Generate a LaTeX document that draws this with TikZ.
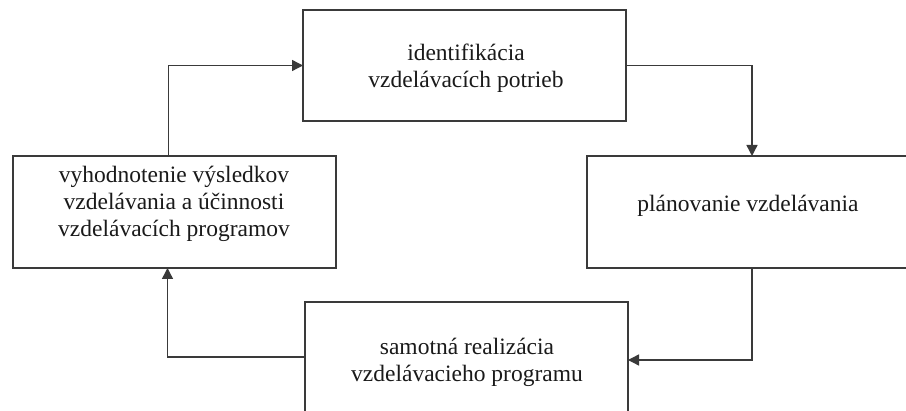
\documentclass[tikz,border=0pt]{standalone}
\usepackage{fontspec}
\setmainfont{Liberation Serif}
\usetikzlibrary{arrows.meta}
\definecolor{linegray}{HTML}{3A3A3A}
\definecolor{textcol}{HTML}{1A1A1A}
\begin{document}
\begin{tikzpicture}[x=1pt,y=-1pt,
  boxstyle/.style={draw=linegray, line width=1.4pt, fill=none, rectangle, inner sep=0pt, outer sep=0pt},
  txt/.style={font=\fontsize{23.5}{27}\selectfont, text=textcol, align=center},
  conn/.style={draw=linegray, line width=1.4pt, -{Triangle[length=11pt,width=11pt]}}]
\clip (0,0) rectangle (906,411);
\fill[white] (0,0) rectangle (906,411);
% boxes
\node[boxstyle, minimum width=323pt, minimum height=111pt] (top) at (464.5,65.5) {};
\node[boxstyle, minimum width=330pt, minimum height=112pt] (right) at (752,212) {};
\node[boxstyle, minimum width=323pt, minimum height=112pt] (left) at (174.5,212) {};
\node[boxstyle, minimum width=323pt, minimum height=116pt] (bottom) at (466.5,360) {};
% texts
\node[txt] (t1) at (466,68) {identifikácia\\vzdelávacích potrieb};
\node[txt] (t2) at (748,206) {plánovanie vzdelávania};
\node[txt] (t3) at (174,204) {vyhodnotenie výsledkov\\vzdelávania a účinnosti\\vzdelávacích programov};
\node[txt] (t4) at (467,362) {samotná realizácia\\vzdelávacieho programu};
% connectors
\draw[conn] (top.east) -| (right.north);
\draw[conn] (right.south) |- (bottom.east);
\draw[conn] ([yshift=3pt]bottom.west) -| ([xshift=-7pt]left.south);
\draw[conn] ([xshift=-6pt]left.north) |- (top.west);
\end{tikzpicture}
\end{document}
